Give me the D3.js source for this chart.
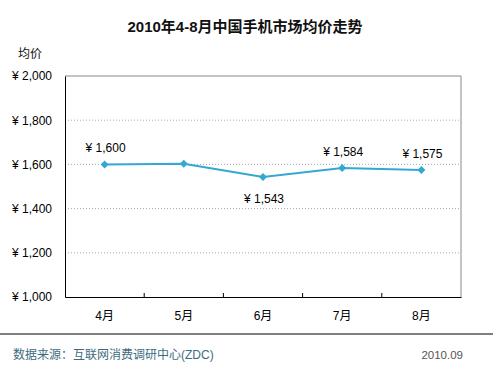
<!DOCTYPE html>
<html><head><meta charset="utf-8">
<script src="https://cdn.jsdelivr.net/npm/d3@7"></script>
<style>body{margin:0;background:#fff}svg{display:block}</style>
</head><body>
<script>
const title = "2010年4-8月中国手机市场均价走势";
const months = ["4月","5月","6月","7月","8月"];
const prices = [1600, 1603, 1543, 1584, 1575];
const showLabel = [true, false, true, true, true];
const labelBelow = [false, false, true, false, false];
const yTicks = [1000, 1200, 1400, 1600, 1800, 2000];
const yAxisTitle = "均价";
const sourceText = "数据来源：互联网消费调研中心(ZDC)";
const dateText = "2010.09";

const W = 493, H = 365;
const m = {left: 65, right: 461, top: 76, bottom: 297};
const svg = d3.select("body").append("svg").attr("width", W).attr("height", H);
const font = "Arial, 'Liberation Sans', 'Noto Sans CJK SC', sans-serif";

const x = d3.scaleBand().domain(months).range([m.left, m.right]);
const y = d3.scaleLinear().domain([1000, 2000]).range([m.bottom, m.top]);
const fmt = v => "¥ " + d3.format(",")(v);

svg.append("text").attr("x", 245).attr("y", 32).attr("text-anchor", "middle")
  .attr("font-family", font).attr("font-weight", "bold").attr("font-size", 15)
  .attr("fill", "#111").text(title);

svg.append("text").attr("x", 18).attr("y", 58).attr("font-family", font)
  .attr("font-size", 12).attr("fill", "#111").text(yAxisTitle);

// gridlines
svg.append("g").selectAll("line").data(yTicks.filter(t => t > 1000 && t < 2000)).join("line")
  .attr("x1", m.left).attr("x2", m.right).attr("y1", d => y(d)).attr("y2", d => y(d))
  .attr("stroke", "#aaa").attr("stroke-dasharray", "1,2");

// frame top/right
svg.append("path").attr("d", `M${m.left},${m.top}H${m.right}V${m.bottom}`)
  .attr("fill", "none").attr("stroke", "#888").attr("stroke-width", 1);

// y axis
const yAx = svg.append("g").attr("transform", `translate(${m.left},0)`)
  .call(d3.axisLeft(y).tickValues(yTicks).tickSize(0).tickPadding(13).tickFormat(fmt));
yAx.select(".domain").attr("stroke", "#000");
yAx.selectAll("text").attr("font-family", font).attr("font-size", 12).attr("fill", "#000");

// x axis
const xAx = svg.append("g").attr("transform", `translate(0,${m.bottom})`)
  .call(d3.axisBottom(x).tickSize(0).tickPadding(14));
xAx.select(".domain").attr("stroke", "#000");
xAx.selectAll("text").attr("font-family", font).attr("font-size", 12).attr("fill", "#000");
// category boundary ticks (inside)
svg.append("g").selectAll("line").data(months.slice(1)).join("line")
  .attr("x1", d => x(d)).attr("x2", d => x(d)).attr("y1", m.bottom).attr("y2", m.bottom - 4)
  .attr("stroke", "#000");

// line
const pts = months.map((mo, i) => ({mo, v: prices[i], show: showLabel[i], below: labelBelow[i], i}));
const cx = d => x(d) + x.bandwidth() / 2;
svg.append("path").datum(pts)
  .attr("d", d3.line().x(d => cx(d.mo)).y(d => y(d.v)))
  .attr("fill", "none").attr("stroke", "#34a8d2").attr("stroke-width", 2);
const r = 4;
svg.append("g").selectAll("path").data(pts).join("path")
  .attr("transform", d => `translate(${cx(d.mo)},${y(d.v)})`)
  .attr("d", `M0,${-r}L${r},0L0,${r}L${-r},0Z`)
  .attr("fill", "#34a8d2");

// labels
svg.append("g").selectAll("text").data(pts.filter(d => d.show)).join("text")
  .attr("x", d => cx(d.mo) + 1)
  .attr("y", d => d.below ? y(d.v) + 26 : y(d.v) - 12)
  .attr("text-anchor", "middle").attr("font-family", font).attr("font-size", 12)
  .attr("fill", "#000").text(d => fmt(d.v));

// bottom rule and source
svg.append("line").attr("x1", 0).attr("x2", W).attr("y1", 334).attr("y2", 334)
  .attr("stroke", "#000").attr("stroke-width", 1.2);
svg.append("text").attr("x", 13).attr("y", 359).attr("font-family", font)
  .attr("font-size", 12).attr("fill", "#3d6c80").text(sourceText);
svg.append("text").attr("x", 463).attr("y", 359).attr("text-anchor", "end")
  .attr("font-family", font).attr("font-size", 11.5).attr("fill", "#555").text(dateText);
</script>
</body></html>
